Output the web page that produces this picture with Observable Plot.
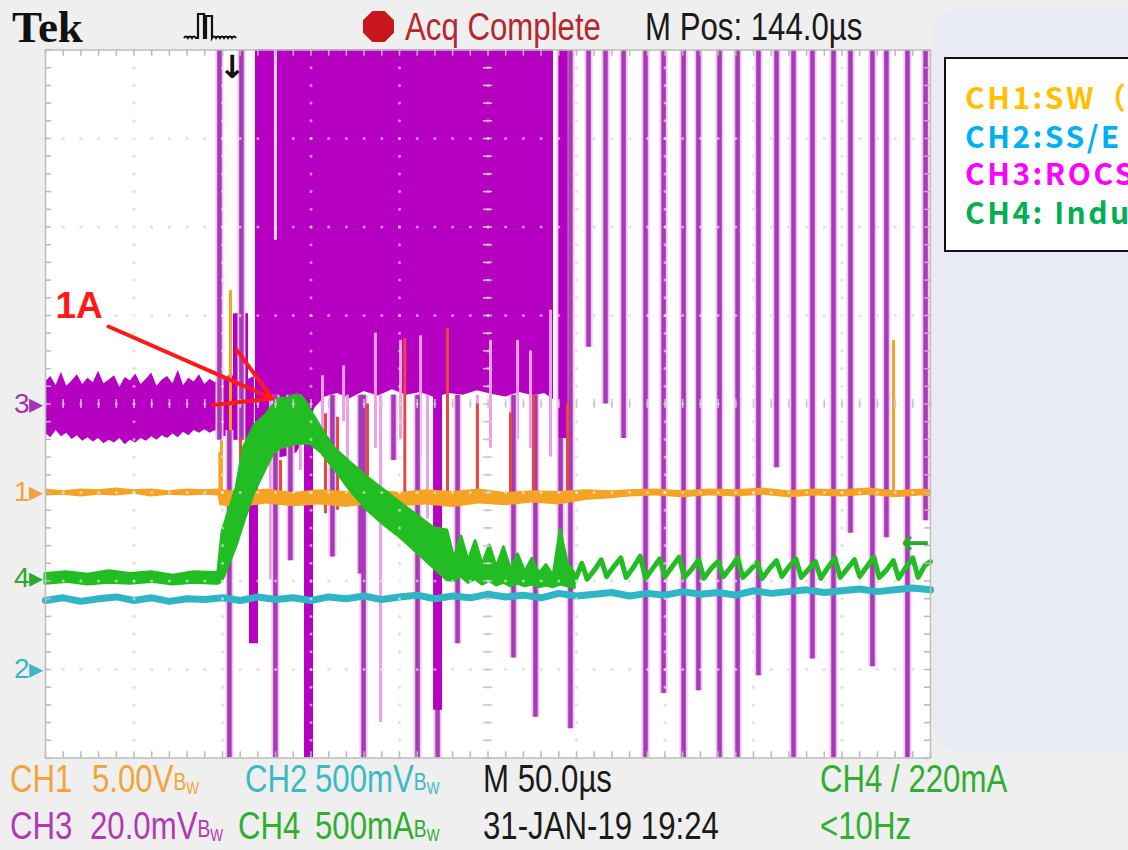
<!DOCTYPE html>
<html><head><meta charset="utf-8">
<script src="https://cdn.jsdelivr.net/npm/d3@7"></script>
<script src="https://cdn.jsdelivr.net/npm/@observablehq/plot@0.6"></script>
<style>
html,body{margin:0;padding:0;}
body{width:1128px;height:850px;background:#efefef;position:relative;overflow:hidden;font-family:"Liberation Sans",Arial,sans-serif;}
#panel{position:absolute;left:933px;top:8px;width:240px;height:744px;background:#e8ebf3;border-radius:26px;}
#chart{position:absolute;left:0;top:0;}
.t{position:absolute;white-space:nowrap;line-height:1;font-size:39px;font-family:"Liberation Sans",Arial,sans-serif;transform:scaleX(0.8);transform-origin:0 0;}
.bw{font-size:24px;position:relative;top:-2px;}
.bw sub{font-size:17px;margin-left:0;vertical-align:-4px;}
#legend{position:absolute;left:944px;top:57px;width:220px;height:191px;background:#fff;border:2px solid #111;overflow:hidden;}
#legend div{position:absolute;left:19px;white-space:nowrap;line-height:1;font-family:"Noto Sans CJK JP","Noto Sans",sans-serif;font-weight:bold;font-size:30px;letter-spacing:2.5px;}
#oct{position:absolute;left:363px;top:11px;width:31px;height:31px;background:#c8161d;clip-path:polygon(30% 0,70% 0,100% 30%,100% 70%,70% 100%,30% 100%,0 70%,0 30%);}
</style></head><body>
<div id="panel"></div>
<div id="chart"></div>
<div id="legend">
  <div style="top:22px;color:#ffc000">CH1:SW（</div>
  <div style="top:61px;color:#00b0f0">CH2:SS/E</div>
  <div style="top:98px;color:#ff00ff">CH3:ROCS</div>
  <div style="top:137px;color:#00b050">CH4: Indu</div>
</div>
<div class="t" style="left:12px;top:5px;font-family:'Liberation Serif','DejaVu Serif',serif;font-weight:bold;font-size:45px;color:#111;transform:none">Tek</div>
<svg style="position:absolute;left:182px;top:8px" width="72" height="36"><path d="M2,30 q2,-3 4,0 q2,-3 4,0 q2,-3 4,0 L16,30 L16,6 L22,6 L22,30 L24,30 L24,8 L30,8 L30,30 q2,-3 4,0 q2,-3 4,0 q2,-3 4,0 q2,-3 4,0 q2,-3 4,0 q2,-3 4,0" fill="none" stroke="#111" stroke-width="2.2"/></svg>
<div id="oct"></div>
<div class="t" style="left:405px;top:7px;color:#b5282e">Acq Complete</div>
<div class="t" style="left:645px;top:7px;color:#1a1a1a">M Pos: 144.0µs</div>

<div class="t" style="left:10px;top:759px;color:#f2a43a">CH1</div>
<div class="t" style="left:92px;top:759px;color:#f2a43a">5.00V<span class="bw">B<sub>W</sub></span></div>
<div class="t" style="left:245px;top:759px;color:#3cb9c6">CH2</div>
<div class="t" style="left:315px;top:759px;color:#3cb9c6">500mV<span class="bw">B<sub>W</sub></span></div>
<div class="t" style="left:483px;top:759px;color:#1a1a1a">M 50.0µs</div>
<div class="t" style="left:820px;top:759px;color:#2fae2f">CH4 / 220mA</div>
<div class="t" style="left:10px;top:806px;color:#b03ab4">CH3</div>
<div class="t" style="left:90px;top:806px;color:#b03ab4">20.0mV<span class="bw">B<sub>W</sub></span></div>
<div class="t" style="left:238px;top:806px;color:#2fae2f">CH4</div>
<div class="t" style="left:315px;top:806px;color:#2fae2f">500mA<span class="bw">B<sub>W</sub></span></div>
<div class="t" style="left:483px;top:806px;color:#1a1a1a">31-JAN-19 19:24</div>
<div class="t" style="left:820px;top:806px;color:#2fae2f">&lt;10Hz</div>
<script>
// ---- time axis: µs (10 divisions × 50 µs); vertical: divisions (-4..4)
const divT = [0,50,100,150,200,250,300,350,400,450,500];
const divY = [-4,-3,-2,-1,0,1,2,3,4];

// CH3 (ROCS) noisy band before switching
const ch3PreT  = [0,3,6,9,12,15,18,21,24,27,30,33,36,39,42,45,48,51,54,57,60,63,66,69,72,75,78,81,84,87,90,93,96,99,102,105,108,111,114,118];
const ch3PreHi = [0.25,0.31,0.21,0.36,0.2,0.26,0.33,0.22,0.29,0.24,0.37,0.23,0.27,0.32,0.19,0.3,0.26,0.34,0.22,0.28,0.35,0.2,0.27,0.31,0.23,0.38,0.21,0.29,0.25,0.33,0.22,0.28,0.24,0.31,0.27,0.36,0.23,0.3,0.27,0.31];
const ch3PreLo = [-0.33,-0.38,-0.30,-0.37,-0.33,-0.40,-0.36,-0.42,-0.38,-0.43,-0.39,-0.45,-0.41,-0.44,-0.39,-0.46,-0.41,-0.44,-0.39,-0.42,-0.37,-0.41,-0.36,-0.39,-0.34,-0.38,-0.32,-0.36,-0.30,-0.33,-0.29,-0.33,-0.30,-0.36,-0.37,-0.41,-0.38,-0.36,-0.40,-0.38];
// CH3 dense burst (clipped at the top of the screen)
const denseT  = [118.6,122,128,135,142,148,152,158,165,172,180,188,196,204,212,220,228,236,244,252,260,268,276,282,287];
const denseLo = [-0.45,-0.6,-0.62,-0.6,-0.55,-0.35,-0.05,0.08,0.12,0.06,0.14,0.09,0.16,0.1,0.13,0.07,0.12,0.1,0.15,0.11,0.08,0.13,0.09,0.12,0.05];
const burstT1 = [106.2], burstT2 = [114.7], burstTop = [1.02], burstBottom = [-0.41];
// CH3 spikes
const spikeT   = [98.3,110.7,103.9,129.9,138.4,162.1,178,179.7,196.6,210.2,221.5,232.8,264.4,276.8,291,296.6,306.8,316.4,326.6,339,349.2,360.5,368.9,380.8,391,402.8,413,422.6,433.3,445.2,454.8,467.2,475.1,487,497.2];
const spikeTop = [4,4,-0.3,0.1,0.1,0.1,0.1,0.1,0.1,0.1,-3.3,0.1,0.1,0.1,4,4,4,4,4,4,4,4,4,4,4,4,4,4,4,4,4,4,4,4,4];
const spikeEnd = [-0.41,-0.41,-4,-4,-1.77,-1.73,-1.92,-4,-0.64,-4,-4,-2.71,-2.87,-3.54,-1.54,-3.67,0.64,0.0,-0.39,-4,-3.27,-4,-3.24,-4,-4,-3.07,-0.72,-4,-2.88,-4,-1.46,-2.97,-1.51,-4,-1.32];
const thickT   = [117.5,148.6,221.5,292.5];
const thickTop = [-0.4,0.1,0.1,4];
const thickEnd = [-2.71,-4,-3.46,-0.39];
const pinkT   = [127.1,144,156.5,168.4,170.6,186.4,189.3,200.6,211.9,215.8,244,251.4,266.7,274,285.3];
const pinkTop = [0.1,0.1,0.32,0.43,0.1,0.8,0.1,0.72,0.77,0.1,0.1,0.72,0.72,0.6,1.06];
const pinkEnd = [-1.99,-0.75,-0.3,-0.2,-0.86,-0.5,-3.6,-0.4,-0.6,-1.3,-1.0,-0.5,-0.4,-0.5,-0.6];
const gapT = [129.9], gapTop = [4], gapEnd = [1.85];

// CH1 (SW) band
const orangeT  = [0,10,20,30,40,50,60,70,80,90,97.5, 98.5,110,125,140,155,170,185,200,215,230,245,260,275,290,305,320, 330,345,360,375,390,405,420,435,450,465,480,495,500];
const orangeHi = [-0.96,-0.98,-0.96,-0.97,-0.95,-0.97,-0.96,-0.98,-0.96,-0.97,-0.96, -0.97,-0.99,-0.96,-1.0,-0.97,-0.99,-0.96,-1.0,-0.97,-0.99,-0.96,-1.0,-0.98,-0.99,-0.97,-0.98, -0.97,-0.96,-0.98,-0.96,-0.97,-0.95,-0.98,-0.96,-0.97,-0.95,-0.98,-0.96,-0.97];
const orangeLo = [-1.04,-1.03,-1.05,-1.03,-1.04,-1.02,-1.05,-1.03,-1.04,-1.03,-1.04, -1.15,-1.17,-1.13,-1.16,-1.14,-1.17,-1.13,-1.16,-1.14,-1.17,-1.13,-1.15,-1.12,-1.14,-1.09,-1.07, -1.05,-1.04,-1.06,-1.04,-1.05,-1.03,-1.06,-1.04,-1.05,-1.03,-1.06,-1.04,-1.05];
const orSpikeT   = [98.5,99.4,104.5,350.3,455.9,479.1];
const orSpikeTop = [-0.55,1.2,1.28,0.32,-0.69,0.72];
const redT   = [110.2,132.8,158.2,165,181.9,203,227.1,244,262.7,275.7,294.9];
const redTop = [-0.38,-0.64,-0.11,-0.15,0.0,0.74,0.85,0.0,-0.1,0.1,0.0];
const redEnd = [-1.06,-1.09,-1.24,-1.2,-1.1,-1.1,-1.1,-1.1,-1.1,-1.1,-1.1];

// CH4 (inductor current) band and ripple
const greenT  = [0,12,24,36,48,60,72,84,96, 97.7,100,104,108,112,118,125.4,128.8,132.8,138.4,142.4,146,149.7,156,162.7,172,181.9,191,200.6,210,219.2,227, 231,235,239,243,247,251,255,259,263,267,271,275,279,283,287,291,295,299];
const greenLo = [-2.03,-2.01,-2.04,-2.02,-2.03,-2.01,-2.04,-2.02,-2.03, -2.03,-2.0,-1.8,-1.6,-1.35,-1.0,-0.7,-0.56,-0.5,-0.47,-0.45,-0.45,-0.45,-0.55,-0.72,-0.97,-1.2,-1.36,-1.51,-1.68,-1.85,-1.99, -2.0,-1.95,-2.02,-1.98,-2.04,-2.0,-2.05,-2.02,-2.06,-2.03,-2.06,-2.04,-2.07,-2.05,-2.07,-2.04,-2.06,-2.08];
const greenHi = [-1.92,-1.9,-1.93,-1.89,-1.92,-1.9,-1.94,-1.9,-1.91, -1.9,-1.45,-1.2,-0.95,-0.5,-0.25,-0.11,-0.02,0.06,0.06,0.1,0.06,-0.07,-0.28,-0.49,-0.66,-0.83,-0.97,-1.12,-1.26,-1.40,-1.43, -1.75,-1.5,-1.78,-1.55,-1.82,-1.6,-1.85,-1.62,-1.88,-1.7,-1.9,-1.75,-1.92,-1.82,-1.95,-1.43,-1.8,-1.92];
const sawT = [299,303,306,310,314,317,321,325,328,332,336,339,343,347,350,354,358,361,365,369,372,376,380,383,387,391,394,398,402,405,409,413,416,420,424,427,431,435,438,442,446,449,453,457,460,464,468,471,475,479,482,486,490,493,497,500];
const sawY = [-2.0,-1.8,-1.98,-1.88,-1.76,-1.95,-1.84,-1.74,-1.96,-1.85,-1.72,-1.97,-1.86,-1.75,-1.95,-1.84,-1.73,-1.96,-1.87,-1.76,-1.97,-1.86,-1.78,-1.95,-1.85,-1.74,-1.96,-1.88,-1.79,-1.97,-1.86,-1.77,-1.95,-1.84,-1.75,-1.96,-1.87,-1.78,-1.97,-1.85,-1.74,-1.96,-1.86,-1.76,-1.95,-1.84,-1.73,-1.96,-1.88,-1.77,-1.97,-1.85,-1.74,-1.96,-1.82,-1.78];

// CH2 (SS) trace
const cyanT = [0,10,20,30,40,50,60,70,80,90,100,110,120,130,140,150,160,170,180,190,200,210,220,230,240,250,260,270,280,290,300,310,320,330,340,350,360,370,380,390,400,410,420,430,440,450,460,470,480,490,500];
const cyanY = [-2.22,-2.19,-2.23,-2.20,-2.18,-2.22,-2.19,-2.23,-2.20,-2.21,-2.19,-2.22,-2.18,-2.21,-2.19,-2.22,-2.18,-2.20,-2.17,-2.21,-2.18,-2.16,-2.20,-2.17,-2.19,-2.15,-2.18,-2.16,-2.19,-2.14,-2.17,-2.15,-2.13,-2.17,-2.14,-2.16,-2.12,-2.15,-2.13,-2.16,-2.11,-2.14,-2.12,-2.10,-2.13,-2.11,-2.09,-2.12,-2.10,-2.08,-2.10];

// channel ground markers & annotation
const markerLabel = ["3","1","4","2"];
const markerY = [0,-1,-1.97,-3];
const annotText = ["1A"], annotAt = [5.6, 1.10];
const arrowFrom = [35.6, 0.876], arrowTo = [128.2, 0.062];
const trigT = [105.6], trigLevel = [-1.57];

const C = {ch1:"#f5a325", ch2:"#2fb6c4", ch3:"#b500c2", ch3line:"#a43cb6", pink:"#eda0ea", red:"#e8473f", ch4:"#22bd22"};

const rows = (keys, arrs) => arrs[0].map((_, i) => Object.fromEntries(keys.map((k, j) => [k, arrs[j][i]])));
const ch3Pre = rows(["t","hi","lo"], [ch3PreT, ch3PreHi, ch3PreLo]);
const dense = rows(["t","lo"], [denseT, denseLo]);
const burst = rows(["t1","t2","top","bottom"], [burstT1, burstT2, burstTop, burstBottom]);
const spikes = rows(["t","top","end"], [spikeT, spikeTop, spikeEnd]);
const thick = rows(["t","top","end"], [thickT, thickTop, thickEnd]);
const pinks = rows(["t","top","end"], [pinkT, pinkTop, pinkEnd]);
const gaps = rows(["t","top","end"], [gapT, gapTop, gapEnd]);
const orange = rows(["t","hi","lo"], [orangeT, orangeHi, orangeLo]);
const orSpikes = rows(["t","top"], [orSpikeT, orSpikeTop]);
const reds = rows(["t","top","end"], [redT, redTop, redEnd]);
const green = rows(["t","lo","hi"], [greenT, greenLo, greenHi]);
const saw = rows(["t","y"], [sawT, sawY]);
const cyan = rows(["t","y"], [cyanT, cyanY]);

// graticule (1/5 division dots, edge and centre ticks)
const minorT = d3.range(0, 501, 10);
const minorY = d3.range(-20, 21).map(k => k / 5);
const dots = [];
for (const t of divT.slice(1, -1)) for (const y of minorY) dots.push({t, y});
for (const y of divY.slice(1, -1)) for (const t of minorT) dots.push({t, y});

const sans = "Liberation Sans, Arial, sans-serif";
const plot = Plot.plot({
  width: 1128, height: 850,
  marginLeft: 45, marginRight: 198, marginTop: 49.5, marginBottom: 92.5,
  x: {domain: [0, 500], axis: null},
  y: {domain: [-4, 4], axis: null},
  style: {background: "transparent", overflow: "visible"},
  marks: [
    Plot.frame({fill: "white", stroke: "none"}),
    Plot.dot(dots, {x: "t", y: "y", r: 1.5, fill: "#c4c4c4"}),
    // CH3 before switching
    Plot.areaY(ch3Pre, {x: "t", y1: "lo", y2: "hi", fill: C.ch3}),
    // CH1 spikes (under the purple)
    Plot.ruleX(orSpikes, {x: "t", y1: "top", y2: () => -1.0, stroke: C.ch1, strokeWidth: 3}),
    // CH3 burst
    Plot.areaY(dense, {x: "t", y1: "lo", y2: () => 4, fill: C.ch3}),
    Plot.rect(burst, {x1: "t1", x2: "t2", y1: "bottom", y2: "top", fill: C.ch3}),
    Plot.ruleX(gaps, {x: "t", y1: "top", y2: "end", stroke: "#f6cdf4", strokeWidth: 3}),
    Plot.ruleX(pinks, {x: "t", y1: "top", y2: "end", stroke: C.pink, strokeWidth: 3}),
    Plot.ruleX(spikes, {x: "t", y1: "top", y2: "end", stroke: "#f2c2f0", strokeWidth: 8, clip: true}),
    Plot.ruleX(spikes, {x: "t", y1: "top", y2: "end", stroke: C.ch3line, strokeWidth: 4.5, clip: true}),
    Plot.ruleX(thick, {x: "t", y1: "top", y2: "end", stroke: C.ch3, strokeWidth: 9, clip: true}),
    Plot.ruleX(reds, {x: "t", y1: "top", y2: "end", stroke: C.red, strokeWidth: 3}),
    // CH1 band
    Plot.areaY(orange, {x: "t", y1: "lo", y2: "hi", fill: C.ch1}),
    // CH2
    Plot.line(cyan, {x: "t", y: "y", stroke: C.ch2, strokeWidth: 7}),
    // CH4
    Plot.areaY(green, {x: "t", y1: "lo", y2: "hi", fill: C.ch4, stroke: C.ch4, strokeWidth: 3}),
    Plot.line(saw, {x: "t", y: "y", stroke: C.ch4, strokeWidth: 5}),
    // graticule overlay
    Plot.dot(dots, {x: "t", y: "y", r: 1.5, fill: "white", fillOpacity: 0.55}),
    Plot.ruleX(minorT, {x: d => d, y1: 4, y2: 3.93, stroke: "#b8b8b8", strokeWidth: 1.5}),
    Plot.ruleX(minorT, {x: d => d, y1: -4, y2: -3.93, stroke: "#b8b8b8", strokeWidth: 1.5}),
    Plot.ruleX(minorT, {x: d => d, y1: -0.05, y2: 0.05, stroke: "#c8c8c8", strokeWidth: 1.5}),
    Plot.ruleY(minorY, {y: d => d, x1: 0, x2: 3.4, stroke: "#b8b8b8", strokeWidth: 1.5}),
    Plot.ruleY(minorY, {y: d => d, x1: 500, x2: 496.6, stroke: "#b8b8b8", strokeWidth: 1.5}),
    Plot.ruleY(minorY, {y: d => d, x1: 247.4, x2: 252.6, stroke: "#c8c8c8", strokeWidth: 1.5}),
    Plot.frame({stroke: "#bdbdbd", strokeWidth: 1.5}),
    // annotations
    Plot.text(annotText, {x: () => annotAt[0], y: () => annotAt[1], text: d => d, textAnchor: "start", fill: "#ff1a1a", fontSize: 37, fontWeight: "bold", fontFamily: sans}),
    Plot.arrow([{x1: arrowFrom[0], y1: arrowFrom[1], x2: arrowTo[0], y2: arrowTo[1]}], {x1: "x1", y1: "y1", x2: "x2", y2: "y2", stroke: "#ff1a1a", strokeWidth: 4, headLength: 26}),
    Plot.text(trigT, {x: d => d, y: () => 3.8, text: () => "↓", fill: "#111", fontSize: 32, fontWeight: "bold", fontFamily: "DejaVu Sans, sans-serif"}),
    Plot.text(trigLevel, {x: () => 500, y: d => d, text: () => "←", textAnchor: "end", dx: -1, fill: "#2aa82a", fontSize: 34, fontWeight: "bold", fontFamily: "DejaVu Sans, sans-serif"}),
    ...markerLabel.map((m, i) => Plot.text([m], {frameAnchor: "left", y: () => markerY[i], text: d => d + "▸", textAnchor: "end", dx: -2, fontSize: 28, fontFamily: sans,
      fill: [ "#a534b2", "#f0a43c", "#2ea82e", "#3ab6c4" ][i]}))
  ]
});
document.getElementById("chart").appendChild(plot);
</script>
</body></html>
